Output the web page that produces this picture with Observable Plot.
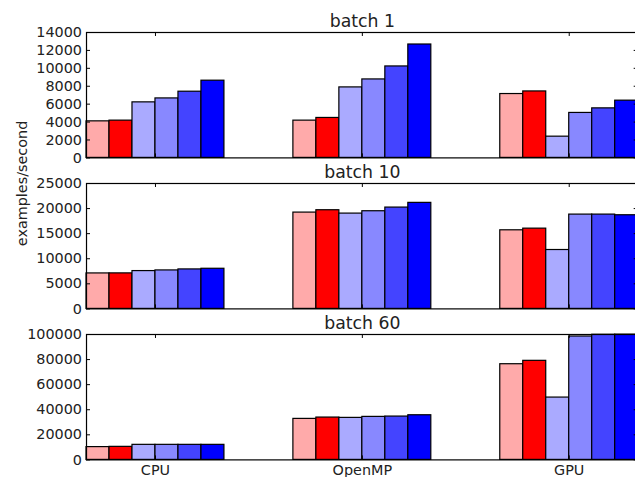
<!DOCTYPE html>
<html>
<head>
<meta charset="utf-8">
<script src="https://cdn.jsdelivr.net/npm/d3@7"></script>
<script src="https://cdn.jsdelivr.net/npm/@observablehq/plot@0.6"></script>
<style>
  html, body { margin: 0; padding: 0; background: #fff; overflow: hidden; }
  #chart { position: relative; width: 635px; height: 477px; overflow: hidden; background: #fff; }
  #chart > div { position: absolute; left: 0; width: 660px; }
  #chart svg { max-width: none !important; width: 660px; }
</style>
</head>
<body>
<div id="chart"></div>
<script>
// ---- data ----
const groups = ["CPU", "OpenMP", "GPU"];
const series = ["s1", "s2", "s3", "s4", "s5", "s6"];
const titles = ["batch 1", "batch 10", "batch 60"];

const batch1 = [
  [4080, 4160, 6200, 6640, 7390, 8620],
  [4160, 4460, 7870, 8760, 10210, 12660],
  [7130, 7420, 2370, 5020, 5530, 6390]
];
const batch10 = [
  [7070, 7080, 7540, 7670, 7870, 8000],
  [19200, 19670, 19000, 19470, 20200, 21140],
  [15670, 16000, 11740, 18800, 18800, 18670]
];
const batch60 = [
  [10200, 10400, 12000, 12000, 12000, 12000],
  [32700, 33760, 33500, 34300, 34550, 35600],
  [76300, 79000, 49700, 98400, 99800, 99900]
];

const ticks1 = [0, 2000, 4000, 6000, 8000, 10000, 12000, 14000];
const ticks10 = [0, 5000, 10000, 15000, 20000, 25000];
const ticks60 = [0, 20000, 40000, 60000, 80000, 100000];

const yLabel = "examples/second";

// ---- style ----
const colors = ["#ffaaaa", "#ff0000", "#aaaaff", "#8888ff", "#4444ff", "#0000ff"];
const barWidth = 1 / 9;
const W = 660, mL = 86, mR = 22.3, mT = 40, mB = 30, innerH = 125.4;
const innerW = W - mL - mR;
const spineTops = [31.7, 182.7, 334];
const textColor = "#222";

function rows(values) {
  const out = [];
  values.forEach((vals, gi) => vals.forEach((v, si) => out.push({group: groups[gi], gi, series: series[si], si, value: v})));
  return out;
}

const panels = [
  {values: batch1, ticks: ticks1},
  {values: batch10, ticks: ticks10},
  {values: batch60, ticks: ticks60}
];

const container = document.getElementById("chart");
const centers = groups.map((g, i) => i + 3 * barWidth);

panels.forEach((p, k) => {
  const data = rows(p.values);
  const marks = [
    Plot.rectY(data, {
      x1: d => d.gi + d.si * barWidth,
      x2: d => d.gi + (d.si + 1) * barWidth,
      y1: 0,
      y2: "value",
      fill: "series",
      stroke: "#000",
      strokeWidth: 1.2
    }),
    Plot.frame({stroke: "#000", strokeWidth: 1.2}),
    Plot.tickY(p.ticks, {y: d => d, stroke: "#000", insetRight: innerW - 4}),
    Plot.tickY(p.ticks, {y: d => d, stroke: "#000", insetLeft: innerW - 4}),
    Plot.tickX(centers, {x: d => d, stroke: "#000", insetBottom: innerH - 4}),
    Plot.tickX(centers, {x: d => d, stroke: "#000", insetTop: innerH - 4}),
    Plot.axisY(p.ticks, {tickSize: 0, tickPadding: 4.5, tickFormat: d => String(d), label: null, fill: textColor}),
    Plot.text([titles[k]], {frameAnchor: "top", lineAnchor: "bottom", dy: -5.8, fontSize: 17.3, fill: textColor})
  ];
  if (k === 2) {
    marks.push(Plot.axisX(centers, {
      tickSize: 0, tickPadding: 4.5, label: null, fill: textColor,
      tickFormat: d => groups[Math.round(d - 3 * barWidth)]
    }));
  }
  if (k === 1) {
    marks.push(Plot.text([yLabel], {frameAnchor: "left", rotate: -90, dx: -64, lineAnchor: "middle", fontSize: 14.4, fill: textColor}));
  }
  const chart = Plot.plot({
    width: W,
    height: mT + innerH + mB,
    marginLeft: mL,
    marginRight: mR,
    marginTop: mT,
    marginBottom: mB,
    style: {background: "transparent", overflow: "visible", fontFamily: "DejaVu Sans", fontSize: "14.4px", color: textColor, maxWidth: "none"},
    x: {type: "linear", domain: [0, groups.length - 1 + series.length * barWidth], axis: null},
    y: {domain: [0, p.ticks[p.ticks.length - 1]], axis: null},
    color: {type: "ordinal", domain: series, range: colors},
    marks
  });
  const wrap = document.createElement("div");
  wrap.style.top = (spineTops[k] - mT) + "px";
  wrap.appendChild(chart);
  container.appendChild(wrap);
});
</script>
</body>
</html>
